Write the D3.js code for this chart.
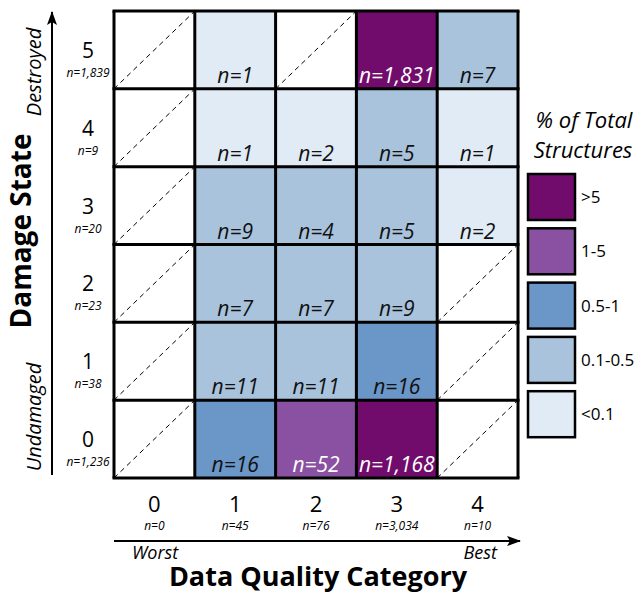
<!DOCTYPE html>
<html>
<head>
<meta charset="utf-8">
<script src="https://cdn.jsdelivr.net/npm/d3@7"></script>
<style>
  body { margin: 0; background: #fff; }
  svg { font-family: "Open Sans", "Noto Sans", sans-serif; }
</style>
</head>
<body>
<div id="chart"></div>
<script>
// Data quality category (columns) and damage state (rows, top to bottom)
const qualityCats = [0, 1, 2, 3, 4];
const damageStates = [5, 4, 3, 2, 1, 0];
const qualityTotals = ["n=0", "n=45", "n=76", "n=3,034", "n=10"];
const damageTotals = ["n=1,839", "n=9", "n=20", "n=23", "n=38", "n=1,236"];

// counts per cell, rows follow damageStates, null = no structures
const counts = [
  [null, 1, null, 1831, 7],
  [null, 1, 2, 5, 1],
  [null, 9, 4, 5, 2],
  [null, 7, 7, 9, null],
  [null, 11, 11, 16, null],
  [null, 16, 52, 1168, null]
];
const totalStructures = 3165;

const legendLabels = [">5", "1-5", "0.5-1", "0.1-0.5", "<0.1"];
const legendColors = ["#720c6c", "#8a50a1", "#6a96c8", "#a9c3dc", "#e1ebf5"];

const width = 638, height = 599;
const grid = { left: 114, right: 518, top: 11, bottom: 478 };

const svg = d3.select("#chart").append("svg")
  .attr("width", width).attr("height", height);

const x = d3.scaleBand().domain(qualityCats).range([grid.left, grid.right]);
const y = d3.scaleBand().domain(damageStates).range([grid.top, grid.bottom]);

// percent -> colour class
const colorScale = d3.scaleThreshold()
  .domain([0.1, 0.5, 1, 5])
  .range(legendColors.slice().reverse());

const cells = [];
damageStates.forEach((ds, i) => {
  qualityCats.forEach((qc, j) => {
    cells.push({ ds, qc, n: counts[i][j] });
  });
});

const cell = svg.append("g").selectAll("g")
  .data(cells).enter().append("g");

cell.append("rect")
  .attr("x", d => x(d.qc)).attr("y", d => y(d.ds))
  .attr("width", x.bandwidth()).attr("height", y.bandwidth())
  .attr("fill", d => d.n == null ? "#fff" : colorScale(d.n / totalStructures * 100));

// dashed diagonal for empty cells
cell.filter(d => d.n == null).append("line")
  .attr("x1", d => x(d.qc)).attr("y1", d => y(d.ds) + y.bandwidth())
  .attr("x2", d => x(d.qc) + x.bandwidth()).attr("y2", d => y(d.ds))
  .attr("stroke", "#000").attr("stroke-width", 1)
  .attr("stroke-dasharray", "5,4");

cell.filter(d => d.n != null).append("text")
  .attr("x", d => x(d.qc) + x.bandwidth() / 2)
  .attr("y", d => y(d.ds) + y.bandwidth() - 6)
  .attr("text-anchor", "middle")
  .attr("font-size", 21).attr("font-style", "italic")
  .attr("fill", d => (d.n / totalStructures * 100) >= 1 ? "#fff" : "#111")
  .text(d => "n=" + d3.format(",")(d.n));

// grid lines
const gl = svg.append("g").attr("stroke", "#000").attr("stroke-width", 3);
qualityCats.concat([5]).forEach((c, i) => {
  const xx = i < 5 ? x(c) : grid.right;
  gl.append("line").attr("x1", xx).attr("x2", xx)
    .attr("y1", grid.top).attr("y2", grid.bottom);
});
damageStates.concat(["end"]).forEach((r, i) => {
  const yy = i < 6 ? y(r) : grid.bottom;
  gl.append("line").attr("y1", yy).attr("y2", yy)
    .attr("x1", grid.left - 1.5).attr("x2", grid.right + 1.5);
});

// arrow marker
svg.append("defs").append("marker")
  .attr("id", "arrow").attr("viewBox", "0 0 14 10")
  .attr("refX", 13).attr("refY", 5)
  .attr("markerWidth", 14).attr("markerHeight", 10)
  .attr("markerUnits", "userSpaceOnUse")
  .attr("orient", "auto")
  .append("path").attr("d", "M0,0 L14,5 L0,10 L3,5 Z").attr("fill", "#000");

// Y axis: row labels
const rowLab = svg.append("g").selectAll("g").data(damageStates).enter().append("g");
rowLab.append("text")
  .attr("x", 88).attr("y", d => y(d) + y.bandwidth() / 2 + 8)
  .attr("text-anchor", "middle").attr("font-size", 21)
  .text(d => d);
rowLab.append("text")
  .attr("x", 88).attr("y", (d, i) => y(d) + y.bandwidth() / 2 + 27)
  .attr("text-anchor", "middle").attr("font-size", 12).attr("font-style", "italic")
  .text((d, i) => damageTotals[i]);

svg.append("line")
  .attr("x1", 52).attr("x2", 52).attr("y1", 475).attr("y2", 12)
  .attr("stroke", "#000").attr("stroke-width", 2)
  .attr("marker-end", "url(#arrow)");

svg.append("text")
  .attr("transform", "translate(41,72) rotate(-90)")
  .attr("text-anchor", "middle").attr("font-size", 20).attr("font-style", "italic")
  .text("Destroyed");
svg.append("text")
  .attr("transform", "translate(41,417) rotate(-90)")
  .attr("text-anchor", "middle").attr("font-size", 20).attr("font-style", "italic")
  .text("Undamaged");
svg.append("text")
  .attr("transform", "translate(31,231) rotate(-90)")
  .attr("text-anchor", "middle").attr("font-size", 28).attr("font-weight", "bold")
  .text("Damage State");

// X axis: column labels
const colLab = svg.append("g").selectAll("g").data(qualityCats).enter().append("g");
colLab.append("text")
  .attr("x", d => x(d) + x.bandwidth() / 2).attr("y", 512)
  .attr("text-anchor", "middle").attr("font-size", 22)
  .text(d => d);
colLab.append("text")
  .attr("x", d => x(d) + x.bandwidth() / 2).attr("y", 530)
  .attr("text-anchor", "middle").attr("font-size", 12).attr("font-style", "italic")
  .text((d, i) => qualityTotals[i]);

svg.append("line")
  .attr("x1", grid.left).attr("x2", grid.right + 2).attr("y1", 541).attr("y2", 541)
  .attr("stroke", "#000").attr("stroke-width", 2)
  .attr("marker-end", "url(#arrow)");

svg.append("text")
  .attr("x", 132).attr("y", 559)
  .attr("font-size", 18).attr("font-style", "italic")
  .text("Worst");
svg.append("text")
  .attr("x", 497).attr("y", 559).attr("text-anchor", "end")
  .attr("font-size", 18).attr("font-style", "italic")
  .text("Best");
svg.append("text")
  .attr("x", 318).attr("y", 586).attr("text-anchor", "middle")
  .attr("font-size", 27).attr("font-weight", "bold")
  .text("Data Quality Category");

// Legend
const legend = svg.append("g");
legend.append("text")
  .attr("x", 584).attr("y", 128).attr("text-anchor", "middle")
  .attr("font-size", 22).attr("font-style", "italic")
  .text("% of Total");
legend.append("text")
  .attr("x", 583).attr("y", 158).attr("text-anchor", "middle")
  .attr("font-size", 22).attr("font-style", "italic")
  .text("Structures");

const li = legend.selectAll("g.item").data(legendLabels).enter().append("g");
li.append("rect")
  .attr("x", 528).attr("y", (d, i) => 174 + i * 54.3)
  .attr("width", 47).attr("height", 46)
  .attr("fill", (d, i) => legendColors[i])
  .attr("stroke", "#000").attr("stroke-width", 2.5);
li.append("text")
  .attr("x", 581).attr("y", (d, i) => 174 + i * 54.3 + 29)
  .attr("font-size", 17)
  .text(d => d);
</script>
</body>
</html>
